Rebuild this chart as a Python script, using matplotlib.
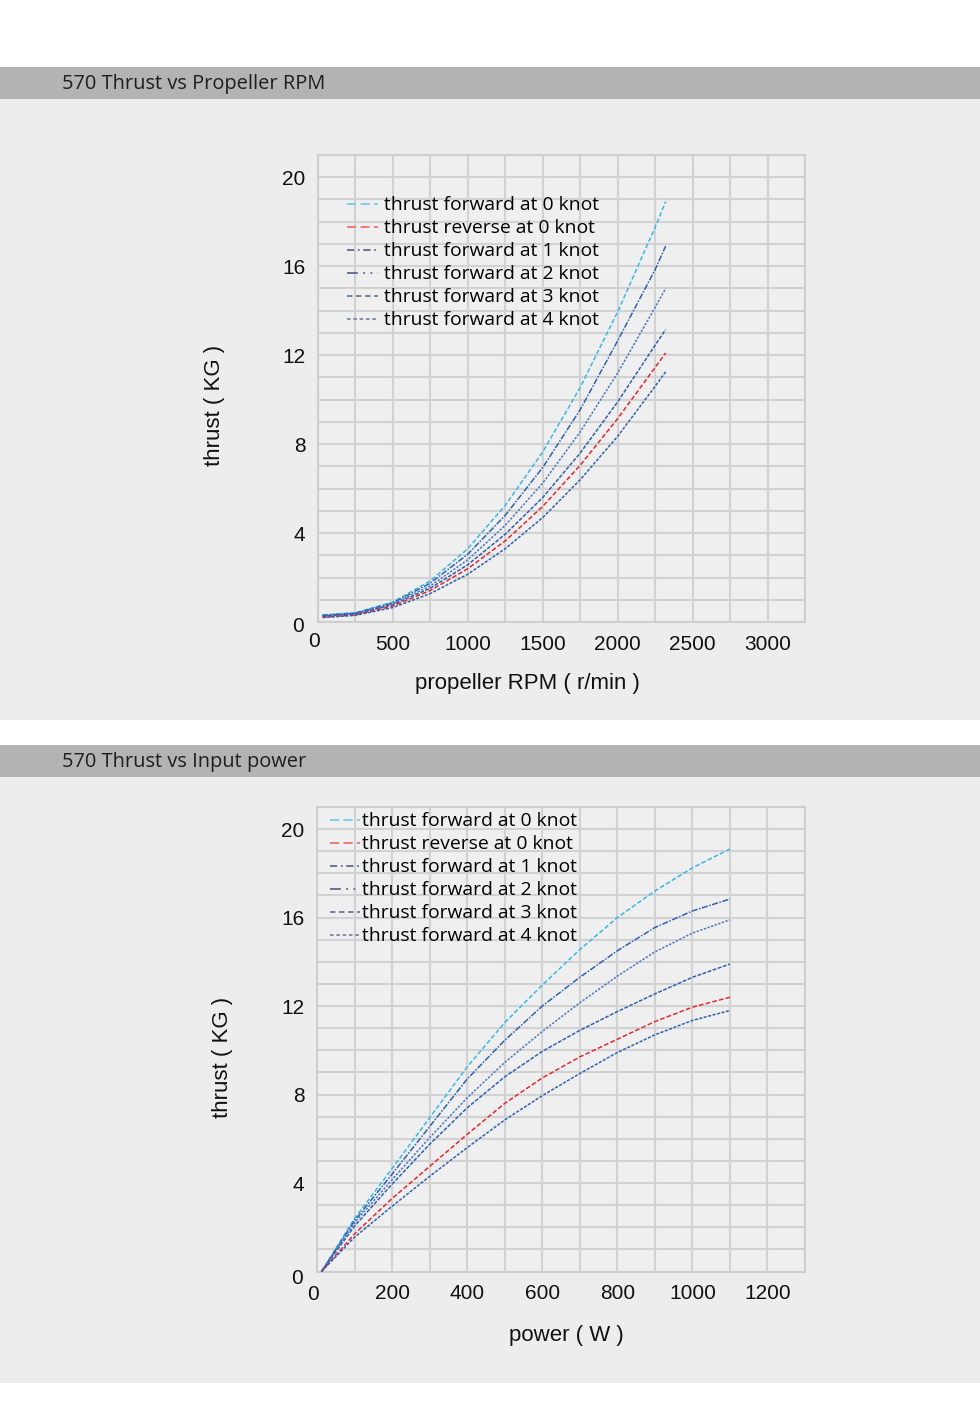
import matplotlib
matplotlib.use("Agg")
import matplotlib.pyplot as plt
from matplotlib.patches import Rectangle
from matplotlib.lines import Line2D
from matplotlib.ticker import MultipleLocator, FuncFormatter

# ---------------- data ----------------
rpm = [30, 250, 500, 750, 1000, 1250, 1500, 1750, 2000, 2250, 2320]
rpm_fwd0 = [0.32, 0.42, 0.90, 1.85, 3.30, 5.25, 7.65, 10.55, 13.95, 17.75, 18.9]
rpm_rev0 = [0.22, 0.32, 0.72, 1.42, 2.40, 3.65, 5.20, 7.05, 9.15, 11.45, 12.1]
rpm_fwd1 = [0.30, 0.40, 0.86, 1.75, 3.05, 4.80, 6.95, 9.55, 12.65, 15.85, 16.9]
rpm_fwd2 = [0.28, 0.38, 0.82, 1.62, 2.80, 4.35, 6.25, 8.55, 11.2, 14.15, 15.0]
rpm_fwd3 = [0.26, 0.36, 0.78, 1.52, 2.58, 3.95, 5.60, 7.60, 9.90, 12.45, 13.15]
rpm_fwd4 = [0.20, 0.30, 0.65, 1.28, 2.15, 3.30, 4.70, 6.40, 8.35, 10.6, 11.25]

power = [12, 100, 200, 300, 400, 500, 600, 700, 800, 900, 1000, 1100]
pw_fwd0 = [0, 2.40, 4.65, 6.95, 9.25, 11.25, 12.95, 14.55, 16.0, 17.2, 18.25, 19.1]
pw_rev0 = [0, 1.70, 3.30, 4.75, 6.20, 7.60, 8.75, 9.70, 10.5, 11.3, 11.95, 12.4]
pw_fwd1 = [0, 2.30, 4.40, 6.55, 8.70, 10.45, 12.0, 13.3, 14.5, 15.55, 16.3, 16.84]
pw_fwd2 = [0, 2.20, 4.15, 6.05, 7.85, 9.45, 10.85, 12.15, 13.35, 14.45, 15.3, 15.9]
pw_fwd3 = [0, 2.05, 3.95, 5.75, 7.40, 8.80, 9.95, 10.9, 11.75, 12.55, 13.3, 13.9]
pw_fwd4 = [0, 1.55, 2.95, 4.30, 5.60, 6.85, 7.95, 8.95, 9.90, 10.7, 11.35, 11.8]

labels = ["thrust forward at 0 knot", "thrust reverse at 0 knot",
          "thrust forward at 1 knot", "thrust forward at 2 knot",
          "thrust forward at 3 knot", "thrust forward at 4 knot"]

titles = ["570 Thrust vs Propeller RPM", "570 Thrust vs Input power"]

# ---------------- styles ----------------
W, H = 980, 1409
line_colors = ["#35b8ea", "#e8262c", "#2d62b2", "#4a78c0", "#2d62b2", "#2d62b2"]
line_styles = [(0, (3, 1.5)), (0, (3, 1.5)), (0, (4, 1, 1, 1)), (0, (1.5, 1)),
               (0, (2.5, 1)), (0, (2, 1))]
leg_colors = ["#72cbec", "#ee6e6e", "#5f6b8c", "#5f6b8c", "#6c7897", "#7c87a2"]
leg_styles = [(0, (5, 2.5)), (0, (5, 2.5)), (0, (4, 2, 1, 2)), (0, (6, 3, 1, 3, 1, 3)),
              (0, (3, 2)), (0, (2, 1.5))]
TICK_FS = 15
LAB_FS = 16
LEG_FS = 13.9
TXT = "#111111"

fig = plt.figure(figsize=(W / 100, H / 100), dpi=100)
fig.patch.set_facecolor("white")

def band(y0, y1, color):
    fig.patches.append(Rectangle((0, 1 - y1 / H), 1, (y1 - y0) / H,
                                 transform=fig.transFigure, facecolor=color,
                                 edgecolor="none", zorder=-5))

def ftext(x, y, s, **kw):
    fig.text(x / W, 1 - y / H, s, **kw)

band(67, 99, "#b3b3b3")
band(99, 720, "#ededed")
band(745, 777, "#b3b3b3")
band(777, 1383, "#ededed")

ftext(62, 84, titles[0], fontsize=14.4, family="Open Sans", color="#1e1e1e",
      va="center", ha="left")
ftext(62, 762, titles[1], fontsize=14.4, family="Open Sans", color="#1e1e1e",
      va="center", ha="left")

def no_zero(v, pos):
    return "" if abs(v) < 1e-9 else "%d" % v

def make_axes(px_left, px_right, px_top, px_bottom):
    ax = fig.add_axes([px_left / W, 1 - px_bottom / H,
                       (px_right - px_left) / W, (px_bottom - px_top) / H])
    ax.set_facecolor("#efefef")
    for s in ax.spines.values():
        s.set_color("#cfcfcf")
        s.set_linewidth(1.5)
    ax.tick_params(which="both", length=0, colors=TXT)
    ax.tick_params(axis="x", pad=9)
    ax.tick_params(axis="y", pad=9)
    ax.grid(True, which="both", color="#d2d2d2", linewidth=1.5)
    ax.set_axisbelow(True)
    ax.xaxis.set_major_formatter(FuncFormatter(no_zero))
    ax.yaxis.set_major_formatter(FuncFormatter(no_zero))
    return ax

def style_ticks(ax):
    for lab in ax.get_xticklabels() + ax.get_yticklabels():
        lab.set_family("Liberation Sans")
        lab.set_fontsize(TICK_FS)

def legend(ax, ax_x, ax_y, hl, tp):
    handles = [Line2D([], [], color=leg_colors[i], linestyle=leg_styles[i],
                      linewidth=1.3) for i in range(6)]
    ax.legend(handles, labels, loc="upper left", bbox_to_anchor=(ax_x, ax_y),
              frameon=False, handlelength=hl, handletextpad=tp,
              labelspacing=0.26, borderaxespad=0,
              prop={"family": "Open Sans", "size": LEG_FS})

order = [0, 2, 3, 4, 1, 5]

# ---------- top chart ----------
ax1 = make_axes(318, 805, 155, 622)
series1 = [rpm_fwd0, rpm_rev0, rpm_fwd1, rpm_fwd2, rpm_fwd3, rpm_fwd4]
for i in order:
    ax1.plot(rpm, series1[i], color=line_colors[i], linestyle=line_styles[i],
             linewidth=1.1, zorder=3)
ax1.set_xlim(0, 3250)
ax1.set_ylim(0, 21)
ax1.xaxis.set_major_locator(MultipleLocator(500))
ax1.xaxis.set_minor_locator(MultipleLocator(250))
ax1.yaxis.set_major_locator(MultipleLocator(4))
ax1.yaxis.set_minor_locator(MultipleLocator(1))
style_ticks(ax1)
legend(ax1, 0.0437, 0.928, 1.6, 0.31)

ftext(298, 627, "0", fontsize=TICK_FS, family="Liberation Sans", color=TXT,
      ha="center", va="center")
ftext(314, 642, "0", fontsize=TICK_FS, family="Liberation Sans", color=TXT,
      ha="center", va="center")
ftext(214, 405, "thrust ( KG )", rotation=90, fontsize=LAB_FS,
      family="Liberation Sans", ha="center", va="center", color=TXT)
ftext(527, 684, "propeller RPM ( r/min )", fontsize=LAB_FS,
      family="Liberation Sans", ha="center", va="center", color=TXT)

# ---------- bottom chart ----------
ax2 = make_axes(317, 805, 807, 1271.5)
series2 = [pw_fwd0, pw_rev0, pw_fwd1, pw_fwd2, pw_fwd3, pw_fwd4]
for i in order:
    ax2.plot(power, series2[i], color=line_colors[i], linestyle=line_styles[i],
             linewidth=1.1, zorder=3)
ax2.set_xlim(0, 1300)
ax2.set_ylim(0, 21)
ax2.xaxis.set_major_locator(MultipleLocator(200))
ax2.xaxis.set_minor_locator(MultipleLocator(100))
ax2.yaxis.set_major_locator(MultipleLocator(4))
ax2.yaxis.set_minor_locator(MultipleLocator(1))
style_ticks(ax2)
legend(ax2, 0.01, 1.005, 1.6, 0.1)

ftext(297, 1279, "0", fontsize=TICK_FS, family="Liberation Sans", color=TXT,
      ha="center", va="center")
ftext(313, 1294, "0", fontsize=TICK_FS, family="Liberation Sans", color=TXT,
      ha="center", va="center")
ftext(222, 1057, "thrust ( KG )", rotation=90, fontsize=LAB_FS,
      family="Liberation Sans", ha="center", va="center", color=TXT)
ftext(566, 1336, "power ( W )", fontsize=LAB_FS,
      family="Liberation Sans", ha="center", va="center", color=TXT)

fig.savefig("out.png", dpi=100, facecolor=fig.get_facecolor())
